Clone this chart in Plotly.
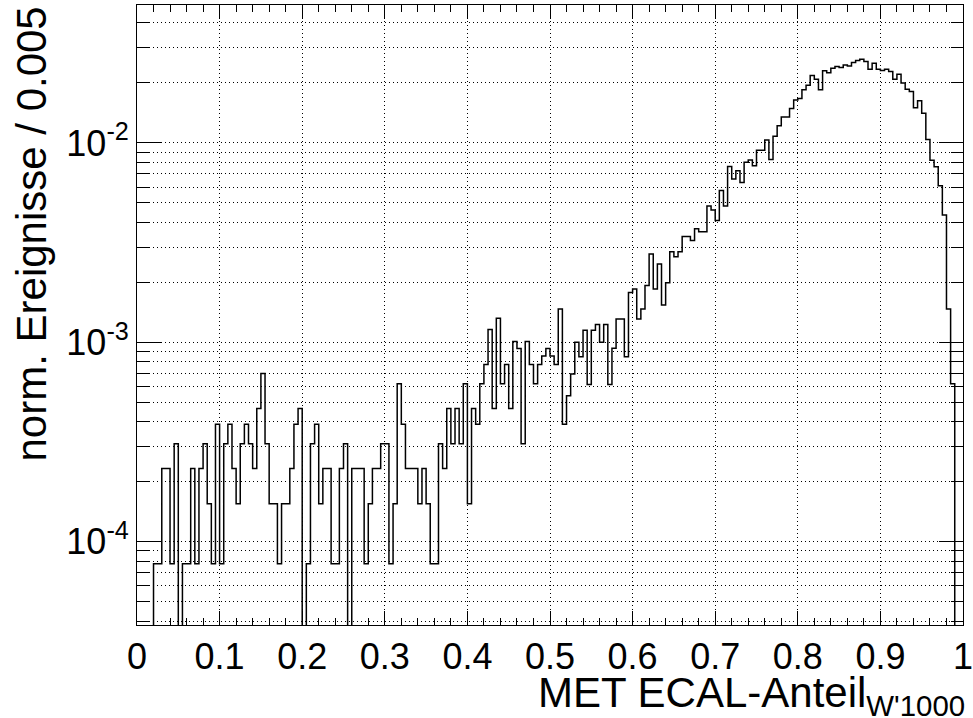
import plotly.graph_objects as go
import math

# ---- data -------------------------------------------------------------
bin_width = 0.005
x_min, x_max = 0.0, 1.0
# normalised entries per bin (200 bins of 0.005 from 0 to 1)
values = [
    0, 0, 0, 0, 7.75e-5, 7.75e-5, 2.33e-4, 2.33e-4, 7.75e-5, 3.10e-4,
    0, 7.75e-5, 7.75e-5, 2.33e-4, 7.75e-5, 2.33e-4, 3.10e-4, 1.55e-4, 7.75e-5, 3.88e-4,
    7.75e-5, 3.10e-4, 3.88e-4, 2.33e-4, 1.55e-4, 3.10e-4, 3.88e-4, 3.10e-4, 2.33e-4, 4.65e-4,
    6.98e-4, 3.10e-4, 1.55e-4, 1.55e-4, 7.75e-5, 1.55e-4, 1.55e-4, 2.33e-4, 3.88e-4, 4.65e-4,
    0, 7.75e-5, 3.10e-4, 3.88e-4, 1.55e-4, 2.33e-4, 2.33e-4, 7.75e-5, 7.75e-5, 2.33e-4,
    3.10e-4, 0, 2.33e-4, 2.33e-4, 2.33e-4, 7.75e-5, 1.55e-4, 2.33e-4, 2.33e-4, 3.10e-4,
    3.10e-4, 7.75e-5, 1.55e-4, 6.20e-4, 3.88e-4, 2.33e-4, 2.33e-4, 2.33e-4, 1.55e-4, 2.33e-4,
    1.55e-4, 7.75e-5, 7.75e-5, 3.10e-4, 2.33e-4, 4.65e-4, 3.10e-4, 4.65e-4, 3.10e-4, 6.20e-4,
    1.55e-4, 4.65e-4, 3.88e-4, 6.20e-4, 7.75e-4, 1.16e-3, 4.65e-4, 1.32e-3, 6.20e-4, 7.75e-4,
    4.65e-4, 1.01e-3, 9.30e-4, 3.10e-4, 1.01e-3, 7.75e-4, 6.20e-4, 7.75e-4, 8.53e-4, 9.30e-4,
    8.53e-4, 7.75e-4, 1.47e-3, 3.88e-4, 5.40e-4, 6.93e-4, 1.00e-3, 8.47e-4, 1.15e-3, 6.15e-4,
    1.15e-3, 1.23e-3, 1.00e-3, 1.23e-3, 6.15e-4, 9.33e-4, 1.31e-3, 1.31e-3, 8.47e-4, 1.78e-3,
    1.85e-3, 1.31e-3, 1.47e-3, 1.93e-3, 2.77e-3, 1.85e-3, 2.47e-3, 1.54e-3, 1.99e-3, 2.85e-3,
    2.69e-3, 2.85e-3, 3.39e-3, 3.39e-3, 3.24e-3, 3.71e-3, 3.59e-3, 3.59e-3, 4.83e-3, 4.61e-3,
    4.08e-3, 5.77e-3, 4.83e-3, 7.61e-3, 6.59e-3, 7.26e-3, 6.33e-3, 8.00e-3, 8.22e-3, 7.69e-3,
    9.20e-3, 9.20e-3, 1.035e-2, 8.25e-3, 1.08e-2, 1.22e-2, 1.35e-2, 1.35e-2, 1.49e-2, 1.64e-2,
    1.67e-2, 1.85e-2, 1.95e-2, 2.18e-2, 2.09e-2, 1.85e-2, 2.30e-2, 2.25e-2, 2.37e-2, 2.42e-2,
    2.39e-2, 2.46e-2, 2.43e-2, 2.53e-2, 2.59e-2, 2.63e-2, 2.56e-2, 2.34e-2, 2.51e-2, 2.34e-2,
    2.31e-2, 2.34e-2, 2.28e-2, 2.09e-2, 2.21e-2, 2.00e-2, 1.86e-2, 1.81e-2, 1.50e-2, 1.63e-2,
    1.41e-2, 1.04e-2, 8.20e-3, 7.60e-3, 6.10e-3, 4.35e-3, 1.47e-3, 6.20e-4, 0, 0,
]
x_tick_vals = [0, 0.1, 0.2, 0.3, 0.4, 0.5, 0.6, 0.7, 0.8, 0.9, 1.0]
x_tick_text = ["0", "0.1", "0.2", "0.3", "0.4", "0.5", "0.6", "0.7", "0.8", "0.9", "1"]
y_tick_vals = [1e-4, 1e-3, 1e-2]
y_tick_text = ["10<sup>-4</sup>", "10<sup>-3</sup>", "10<sup>-2</sup>"]
y_min, y_max = 3.82e-5, 4.92e-2
x_title = "MET ECAL-Anteil<sub>W'1000</sub>"
y_title = "norm. Ereignisse / 0.005"

# ---- build step outline ----------------------------------------------
n = len(values)
edges = [x_min + i * bin_width for i in range(n + 1)]
floor = 1e-8  # empty bins are drawn down to (below) the frame, like ROOT
yv = [v if v > 0 else floor for v in values]
xs = edges[:-1] + [edges[-1]]
ys = yv + [yv[-1]]

minor_y = [k * 10.0 ** e for e in (-5, -4, -3, -2) for k in range(2, 10)
           if y_min <= k * 10.0 ** e <= y_max]

FONT = "Liberation Sans, Arial, Helvetica, sans-serif"
DOT = "1px,3px"

fig = go.Figure()
fig.add_trace(go.Scatter(x=xs, y=ys, mode="lines", line=dict(shape="hv", color="black", width=1.5),
                         hoverinfo="skip"))

fig.update_layout(
    width=973, height=718,
    margin=dict(l=137, r=10, t=5, b=93, autoexpand=False),
    paper_bgcolor="white", plot_bgcolor="white",
    showlegend=False,
    font=dict(family=FONT, color="black"),
)
fig.update_xaxes(
    range=[x_min, x_max], tickmode="array", tickvals=x_tick_vals, ticktext=x_tick_text,
    ticks="inside", ticklen=14, tickwidth=1, tickcolor="black", ticklabeloverflow="allow",
    automargin=False,
    showline=True, linecolor="black", linewidth=1, mirror="ticks",
    showgrid=True, gridcolor="black", griddash=DOT, gridwidth=1,
    zeroline=False, tickfont=dict(size=36, family=FONT, color="black"),
    minor=dict(dtick=0.02, ticks="inside", ticklen=7, tickcolor="black", tickwidth=1, showgrid=False),
)
fig.update_yaxes(
    type="log", range=[math.log10(y_min), math.log10(y_max)],
    tickmode="array", tickvals=y_tick_vals, ticktext=y_tick_text,
    ticks="inside", ticklen=24, tickwidth=1, tickcolor="black", automargin=False,
    showline=True, linecolor="black", linewidth=1, mirror="ticks",
    showgrid=True, gridcolor="black", griddash=DOT, gridwidth=1,
    zeroline=False, tickfont=dict(size=36, family=FONT, color="black"),
    minor=dict(tickmode="array", tickvals=minor_y, ticks="inside", ticklen=12, tickcolor="black",
               tickwidth=1, showgrid=True, gridcolor="black", griddash=DOT, gridwidth=1),
)
fig.add_annotation(text=x_title, xref="paper", yref="paper", x=1, y=0, xanchor="right", yanchor="top",
                   yshift=-42, xshift=4, showarrow=False, font=dict(size=42, family=FONT, color="black"))
fig.add_annotation(text=y_title, xref="paper", yref="paper", x=0, y=1, xanchor="center", yanchor="top",
                   xshift=-106, textangle=-90, showarrow=False, font=dict(size=42, family=FONT, color="black"))

fig.write_html("out.html")
